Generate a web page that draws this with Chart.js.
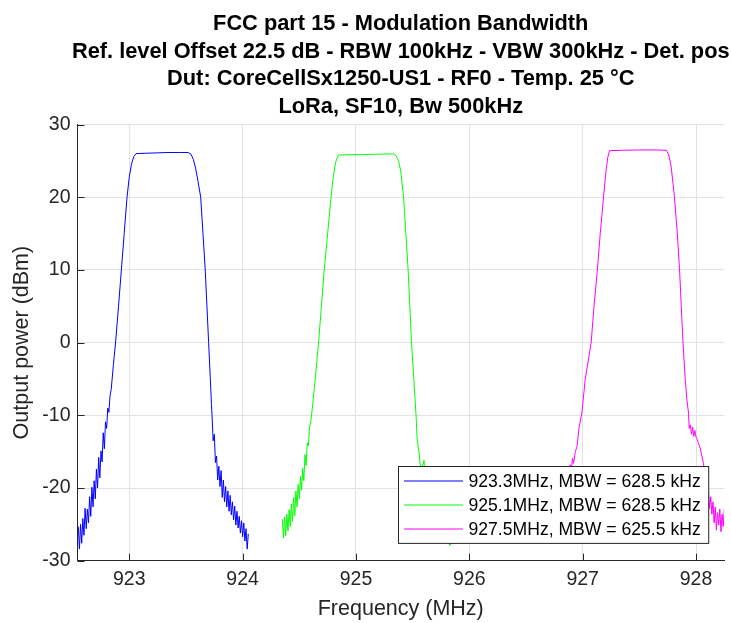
<!DOCTYPE html>
<html>
<head>
<meta charset="utf-8">
<script src="https://cdn.jsdelivr.net/npm/chart.js@4.4.1/dist/chart.umd.min.js"></script>
<style>
  html, body { margin: 0; padding: 0; background: #fff; }
  #wrap { width: 731px; height: 623px; position: relative; }
</style>
</head>
<body>
<div id="wrap"><canvas id="mbw"></canvas></div>
<script>
// ----- data -----
const titleLines = [
  'FCC part 15 - Modulation Bandwidth',
  'Ref. level Offset 22.5 dB - RBW 100kHz - VBW 300kHz - Det. pos',
  'Dut: CoreCellSx1250-US1 - RF0 - Temp. 25 °C',
  'LoRa, SF10, Bw 500kHz'
];
const seriesLabels = [
  '923.3MHz, MBW = 628.5 kHz',
  '925.1MHz, MBW = 628.5 kHz',
  '927.5MHz, MBW = 625.5 kHz'
];
const seriesColors = ['#0000ff', '#00ff00', '#ff00ff'];
const freqTicks = [923, 924, 925, 926, 927, 928];
const powerTicks = [-30, -20, -10, 0, 10, 20, 30];
const freqRange = [922.543, 928.247];

// channel 923.3 MHz
const blueFreq = [
  922.55, 922.56, 922.57, 922.58, 922.59, 922.60, 922.61, 922.62, 922.63, 922.64,
  922.65, 922.66, 922.67, 922.68, 922.69, 922.70, 922.71, 922.72, 922.73, 922.74,
  922.75, 922.76, 922.77, 922.78, 922.79, 922.80, 922.81, 922.82, 922.83, 922.84,
  922.86, 922.88, 922.905, 922.93, 922.955, 922.98, 923.00, 923.02, 923.04, 923.06,
  923.15, 923.25, 923.35, 923.45, 923.52, 923.545, 923.565, 923.585, 923.605, 923.63,
  923.65, 923.67, 923.685, 923.70, 923.715, 923.725,
  923.73, 923.74, 923.75, 923.76, 923.77, 923.78, 923.79, 923.80, 923.81, 923.82,
  923.83, 923.84, 923.85, 923.86, 923.87, 923.88, 923.89, 923.90, 923.91, 923.92,
  923.93, 923.94, 923.95, 923.96, 923.97, 923.98, 923.99, 924.00, 924.01, 924.02,
  924.03, 924.04, 924.05
];
const bluePow = [
  -25.3, -28.4, -25.0, -27.6, -24.2, -26.5, -22.8, -25.6, -22.9, -24.8,
  -21.2, -23.9, -19.9, -22.6, -19.0, -21.5, -17.4, -20.0, -15.8, -18.6,
  -14.9, -16.4, -12.4, -14.6, -10.9, -11.8, -9.0, -9.6, -7.3, -6.5,
  -3.0, 0.2, 5, 10, 15, 20, 22.8, 24.6, 25.6, 26.0,
  26.05, 26.1, 26.15, 26.15, 26.15, 25.9, 25.2, 24.0, 22.3, 20,
  15, 10, 5, 0, -5, -8.5,
  -10.0, -13.5, -12.6, -16.5, -15.6, -18.9, -17.0, -19.8, -17.6, -21.3,
  -18.9, -21.9, -19.8, -22.6, -20.4, -23.2, -21.0, -23.7, -21.9, -24.4,
  -22.5, -25.1, -23.2, -25.5, -23.9, -26.2, -24.5, -26.7, -24.8, -27.3,
  -25.6, -28.4, -26.3
];

// channel 925.1 MHz
const greenFreq = [
  924.35, 924.36, 924.37, 924.38, 924.39, 924.40, 924.41, 924.42, 924.43, 924.44,
  924.45, 924.46, 924.47, 924.48, 924.49, 924.50, 924.51, 924.52, 924.53, 924.54,
  924.55, 924.56, 924.57, 924.58, 924.59, 924.60,
  924.615, 924.64, 924.67, 924.695, 924.72, 924.75, 924.78, 924.80, 924.82, 924.845,
  924.95, 925.05, 925.15, 925.25, 925.33,
  925.355, 925.375, 925.395, 925.42, 925.44, 925.46, 925.475, 925.49, 925.51, 925.53,
  925.54, 925.555, 925.566, 925.58, 925.60, 925.61, 925.63,
  925.65, 925.67, 925.69, 925.71, 925.73, 925.75, 925.77, 925.79, 925.81, 925.83, 925.85
];
const greenPow = [
  -24.3, -26.9, -24.0, -26.6, -23.6, -25.9, -23.0, -25.3, -22.2, -24.6,
  -21.3, -23.8, -20.4, -22.6, -19.5, -21.5, -18.4, -20.3, -17.3, -19.0,
  -15.4, -16.9, -13.8, -14.2, -11.6, -11.0,
  -9.0, -5.1, 0, 5, 10, 15, 20, 22.8, 24.8, 25.8,
  25.85, 25.85, 25.9, 25.95, 25.95,
  25.7, 25.0, 23.6, 20, 15, 10, 5, 0, -5, -10,
  -13.4, -15, -16.6, -17.5, -16.2, -18.8, -19.5,
  -20.5, -21.3, -22.8, -23.0, -24.6, -24.8, -26.2, -25.8, -27.4, -27.9, -26.5
];

// channel 927.5 MHz
const magentaFreq = [
  926.75, 926.76, 926.77, 926.78, 926.79, 926.80, 926.81, 926.82, 926.83, 926.84,
  926.85, 926.86, 926.87, 926.88, 926.89, 926.90, 926.91, 926.92,
  926.935, 926.95, 926.97, 926.993, 927.022, 927.075, 927.10, 927.13, 927.155, 927.184,
  927.205, 927.222, 927.237, 927.35, 927.5, 927.65, 927.74,
  927.76, 927.78, 927.81, 927.835, 927.855, 927.87, 927.885, 927.905, 927.92, 927.934,
  927.94, 927.95, 927.96, 927.97, 927.98, 927.99, 928.00, 928.01, 928.02,
  928.037, 928.05, 928.066,
  928.08, 928.09, 928.10, 928.11, 928.12, 928.13, 928.14, 928.15, 928.16, 928.17,
  928.18, 928.19, 928.20, 928.21, 928.22, 928.23, 928.24, 928.25
];
const magentaPow = [
  -25.5, -27.0, -24.8, -26.0, -23.4, -25.0, -22.0, -23.8, -20.6, -22.3,
  -19.3, -20.6, -18.0, -19.2, -16.8, -17.9, -15.9, -16.6,
  -15.0, -14.3, -11.5, -9.7, -5.1, 0, 5, 10, 15, 20,
  23.5, 25.5, 26.4, 26.45, 26.5, 26.5, 26.45,
  25.8, 24.3, 20, 15, 10, 5, 0, -5.1, -7.9, -9.7,
  -11.8, -11.3, -12.6, -11.6, -12.9, -12.1, -13.0, -13.3, -13.8,
  -14.5, -15.5, -16.6,
  -18.5, -19.0, -21.0, -20.3, -22.8, -21.2, -23.6, -21.9, -24.8, -22.6,
  -25.8, -23.4, -25.1, -22.9, -26.0, -23.6, -25.3, -22.8
];

// ----- chart -----
const FONT = '"Liberation Sans", Arial, Helvetica, sans-serif';
const AXIS_COLOR = '#262626';
const GRID_COLOR = '#e3e3e3';

function toPoints(xs, ys) {
  return xs.map((x, i) => ({ x: x, y: ys[i] }));
}

const traces = [[blueFreq, bluePow], [greenFreq, greenPow], [magentaFreq, magentaPow]];

// title centred over the axes (not the whole canvas), like MATLAB does
const axesTitle = {
  id: 'axesTitle',
  afterDraw(chart) {
    const { ctx, chartArea: a } = chart;
    ctx.save();
    ctx.font = 'bold 21.8px ' + FONT;
    ctx.fillStyle = '#000';
    ctx.textAlign = 'center';
    ctx.textBaseline = 'middle';
    const cx = (a.left + a.right) / 2;
    titleLines.forEach((line, i) => ctx.fillText(line, cx, 24 + i * 27.5));
    ctx.restore();
  }
};

// MATLAB style ticks pointing into the axes
const inwardTicks = {
  id: 'inwardTicks',
  afterDatasetsDraw(chart) {
    const { ctx, chartArea: a, scales: { x, y } } = chart;
    ctx.save();
    ctx.strokeStyle = AXIS_COLOR;
    ctx.lineWidth = 1;
    ctx.beginPath();
    freqTicks.forEach(v => {
      const px = Math.round(x.getPixelForValue(v)) + 0.5;
      ctx.moveTo(px, a.bottom);
      ctx.lineTo(px, a.bottom - 7);
    });
    powerTicks.forEach(v => {
      const py = Math.round(y.getPixelForValue(v)) + 0.5;
      ctx.moveTo(a.left, py);
      ctx.lineTo(a.left + 7, py);
    });
    ctx.stroke();
    ctx.restore();
  }
};

// boxed legend in the lower right corner of the axes
const boxLegend = {
  id: 'boxLegend',
  afterDatasetsDraw(chart) {
    const { ctx, chartArea: a } = chart;
    ctx.save();
    ctx.font = '17.6px ' + FONT;
    const textW = Math.max(...chart.data.datasets.map(d => ctx.measureText(d.label).width));
    const rowH = 24.3;
    const boxW = 70 + textW + 8;
    const boxH = rowH * chart.data.datasets.length + 4;
    const left = Math.round(a.right - 16 - boxW) + 0.5;
    const top = Math.round(a.bottom - 17.4 - boxH) + 0.5;
    ctx.fillStyle = '#fff';
    ctx.fillRect(left, top, boxW, boxH);
    ctx.strokeStyle = AXIS_COLOR;
    ctx.lineWidth = 1;
    ctx.strokeRect(left, top, boxW, boxH);
    ctx.textBaseline = 'middle';
    ctx.textAlign = 'left';
    chart.data.datasets.forEach((d, i) => {
      const cy = Math.round(top + 14 + i * rowH);
      ctx.strokeStyle = d.borderColor;
      ctx.lineWidth = 1.2;
      ctx.beginPath();
      ctx.moveTo(left + 5.5, cy);
      ctx.lineTo(left + 64.5, cy);
      ctx.stroke();
      ctx.fillStyle = '#000';
      ctx.fillText(d.label, left + 70, cy + 1);
    });
    ctx.restore();
  }
};

new Chart(document.getElementById('mbw'), {
  type: 'scatter',
  data: {
    datasets: traces.map((t, i) => ({
      label: seriesLabels[i],
      data: toPoints(t[0], t[1]),
      showLine: true,
      borderColor: seriesColors[i],
      backgroundColor: seriesColors[i],
      borderWidth: 1,
      pointRadius: 0,
      tension: 0
    }))
  },
  options: {
    responsive: true,
    maintainAspectRatio: false,
    animation: false,
    layout: { padding: { left: 0, right: 7, top: 124.5, bottom: 0 } },
    plugins: {
      legend: { display: false },
      tooltip: { enabled: false },
      title: { display: false }
    },
    scales: {
      x: {
        type: 'linear',
        min: freqRange[0],
        max: freqRange[1],
        afterBuildTicks: s => { s.ticks = freqTicks.map(v => ({ value: v })); },
        afterFit: s => { s.height = 62.3; },
        ticks: {
          color: AXIS_COLOR,
          font: { family: FONT, size: 19.5 },
          padding: 7,
          maxRotation: 0,
          callback: v => String(v)
        },
        grid: { color: GRID_COLOR, lineWidth: 1, drawTicks: false },
        border: { display: true, color: AXIS_COLOR, width: 1 },
        title: {
          display: true,
          text: 'Frequency (MHz)',
          color: AXIS_COLOR,
          font: { family: FONT, size: 21.5 },
          padding: { top: 0, bottom: 1 }
        }
      },
      y: {
        min: -30,
        max: 30,
        afterBuildTicks: s => { s.ticks = powerTicks.map(v => ({ value: v })); },
        afterFit: s => { s.width = 77.5; },
        ticks: {
          color: AXIS_COLOR,
          font: { family: FONT, size: 19.5 },
          padding: 7
        },
        grid: { color: GRID_COLOR, lineWidth: 1, drawTicks: false },
        border: { display: true, color: AXIS_COLOR, width: 1 },
        title: {
          display: true,
          text: 'Output power (dBm)',
          color: AXIS_COLOR,
          font: { family: FONT, size: 21.5 },
          padding: { top: 9.5, bottom: 0 }
        }
      }
    }
  },
  plugins: [axesTitle, inwardTicks, boxLegend]
});
</script>
</body>
</html>
